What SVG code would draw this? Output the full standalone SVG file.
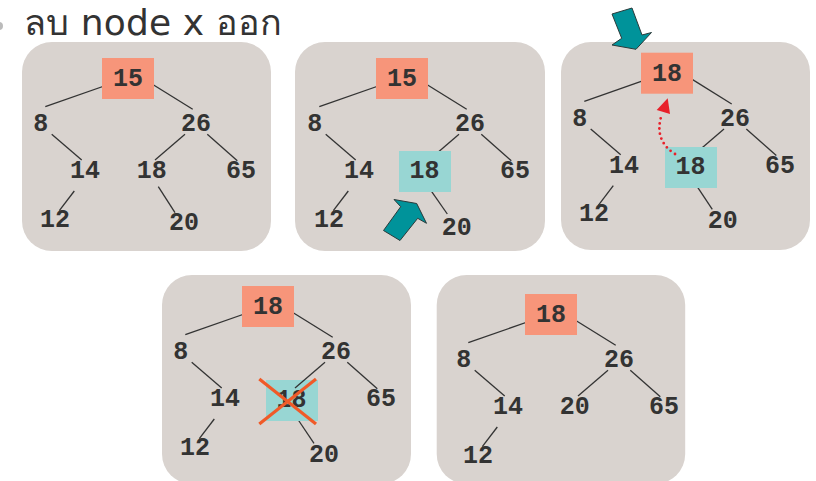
<svg xmlns="http://www.w3.org/2000/svg" width="816" height="481" viewBox="0 0 816 481">
<style>
.panel{fill:#D9D3CF}
.root{fill:#F7957A}
.cur{fill:#98D6D3}
.n{font-family:"Liberation Mono","Courier New",monospace;font-weight:bold;font-size:25px;fill:#333;text-anchor:middle}
.e{stroke:#333;stroke-width:1.3;fill:none}
.title{font-family:"DejaVu Sans","Noto Sans",sans-serif;font-size:36px;fill:#333}
.arrow{fill:#00939A;stroke:#2a3a3a;stroke-width:1}
</style>
<circle cx="-1" cy="26" r="4" fill="#bbb"/>
<text class="title" x="24" y="35" textLength="258" lengthAdjust="spacing">ลบ node x ออก</text>

<!-- Panel 1 -->
<g id="panel1">
<rect class="panel" x="22" y="42" width="249" height="209" rx="30"/>
<g id="p1-connectors">
<line class="e" x1="110" y1="84" x2="45.3" y2="106.7"/>
<line class="e" x1="150" y1="82.7" x2="192.7" y2="109.3"/>
<line class="e" x1="51.7" y1="134.3" x2="81.7" y2="160"/>
<line class="e" x1="185" y1="134.3" x2="155" y2="160"/>
<line class="e" x1="207.3" y1="134.3" x2="237.3" y2="160.7"/>
<line class="e" x1="74.3" y1="191" x2="59.3" y2="210.7"/>
<line class="e" x1="158.3" y1="186.7" x2="175" y2="212.7"/>
</g>
<g id="p1-n15"><rect class="root" x="102" y="58" width="52" height="41"/><text class="n" x="128" y="86">15</text></g>
<g id="p1-n8"><text class="n" x="40.7" y="131">8</text></g>
<g id="p1-n26"><text class="n" x="196" y="131">26</text></g>
<g id="p1-n14"><text class="n" x="85" y="178">14</text></g>
<g id="p1-n18"><text class="n" x="151.7" y="178">18</text></g>
<g id="p1-n65"><text class="n" x="241" y="178">65</text></g>
<g id="p1-n12"><text class="n" x="55" y="226.7">12</text></g>
<g id="p1-n20"><text class="n" x="184" y="230">20</text></g>
</g>

<!-- Panel 2 -->
<g id="panel2">
<rect class="panel" x="295" y="42" width="250" height="209" rx="30"/>
<g id="p2-connectors" transform="translate(274,0)">
<line class="e" x1="110" y1="84" x2="45.3" y2="106.7"/>
<line class="e" x1="150" y1="82.7" x2="192.7" y2="109.3"/>
<line class="e" x1="51.7" y1="134.3" x2="81.7" y2="160"/>
<line class="e" x1="185" y1="134.3" x2="155" y2="160"/>
<line class="e" x1="207.3" y1="134.3" x2="237.3" y2="160.7"/>
<line class="e" x1="74.3" y1="191" x2="59.3" y2="210.7"/>
</g>
<line class="e" x1="431.7" y1="191.7" x2="447.3" y2="214"/>
<g transform="translate(274,0)">
<g id="p2-n15"><rect class="root" x="102" y="58" width="52" height="41"/><text class="n" x="128" y="86">15</text></g>
<g id="p2-n8"><text class="n" x="40.7" y="131">8</text></g>
<g id="p2-n26"><text class="n" x="196" y="131">26</text></g>
<g id="p2-n14"><text class="n" x="85" y="178">14</text></g>
<g id="p2-n65"><text class="n" x="241" y="178">65</text></g>
<g id="p2-n12"><text class="n" x="55" y="226.7">12</text></g>
</g>
<g id="p2-n18"><rect class="cur" x="399" y="151" width="52" height="41"/><text class="n" x="424.5" y="178">18</text></g>
<g id="p2-n20"><text class="n" x="456.7" y="235">20</text></g>
<polygon id="p2-pointer" class="arrow" points="394,199.5 416.7,203.5 426.5,223.3 417.7,218.3 400,240.5 383.5,230.5 400.7,206.7"/>
</g>

<!-- Panel 3 -->
<g id="panel3">
<rect class="panel" x="561" y="42" width="249" height="208" rx="30"/>
<g id="p3-connectors" transform="translate(539,-5.3)">
<line class="e" x1="110" y1="84" x2="45.3" y2="106.7"/>
<line class="e" x1="150" y1="82.7" x2="192.7" y2="109.3"/>
<line class="e" x1="51.7" y1="134.3" x2="81.7" y2="160"/>
<line class="e" x1="185" y1="134.3" x2="155" y2="160"/>
<line class="e" x1="207.3" y1="134.3" x2="237.3" y2="160.7"/>
<line class="e" x1="74.3" y1="191" x2="59.3" y2="210.7"/>
</g>
<line class="e" x1="697.7" y1="187.3" x2="712.3" y2="209.3"/>
<g transform="translate(539,-5.3)">
<g id="p3-n18root"><rect class="root" x="102" y="58" width="52" height="41"/><text class="n" x="128" y="86">18</text></g>
<g id="p3-n8"><text class="n" x="40.7" y="131">8</text></g>
<g id="p3-n26"><text class="n" x="196" y="131">26</text></g>
<g id="p3-n14"><text class="n" x="85" y="178">14</text></g>
<g id="p3-n65"><text class="n" x="241" y="178">65</text></g>
<g id="p3-n12"><text class="n" x="55" y="226.7">12</text></g>
</g>
<g id="p3-n18"><rect class="cur" x="665" y="147" width="52" height="41"/><text class="n" x="690.5" y="174">18</text></g>
<g id="p3-n20"><text class="n" x="722.7" y="228.3">20</text></g>
<path id="p3-move" d="M675,154 Q653,140 662,114" fill="none" stroke="#E8202A" stroke-width="2.8" stroke-linecap="round" stroke-dasharray="0 5.2"/>
<polygon points="667.7,98.3 656.7,110 670,114" fill="#E8202A"/>
<polygon id="p3-pointer" class="arrow" points="612,14 632,8 642,35 651.5,32.5 636,49.3 612,45 621.7,38.3"/>
</g>

<!-- Panel 4 -->
<g id="panel4">
<rect class="panel" x="162" y="275" width="249" height="209" rx="30"/>
<g id="p4-connectors" transform="translate(140,228)">
<line class="e" x1="110" y1="84" x2="45.3" y2="106.7"/>
<line class="e" x1="150" y1="82.7" x2="192.7" y2="109.3"/>
<line class="e" x1="51.7" y1="134.3" x2="81.7" y2="160"/>
<line class="e" x1="207.3" y1="134.3" x2="237.3" y2="160.7"/>
<line class="e" x1="74.3" y1="191" x2="59.3" y2="210.7"/>
</g>
<line class="e" x1="298.3" y1="420" x2="314" y2="443.3"/>
<g transform="translate(140,228)">
<g id="p4-n18root"><rect class="root" x="102" y="58" width="52" height="41"/><text class="n" x="128" y="86">18</text></g>
<g id="p4-n8"><text class="n" x="40.7" y="131">8</text></g>
<g id="p4-n26"><text class="n" x="196" y="131">26</text></g>
<g id="p4-n14"><text class="n" x="85" y="178">14</text></g>
<g id="p4-n65"><text class="n" x="241" y="178">65</text></g>
<g id="p4-n12"><text class="n" x="55" y="226.7">12</text></g>
</g>
<g id="p4-n18"><rect class="cur" x="266" y="380" width="52" height="41"/><text class="n" x="291.5" y="407">18</text></g>
<line class="e" x1="325" y1="362.3" x2="295" y2="388"/>
<g id="p4-n20"><text class="n" x="324" y="461.7">20</text></g>
<g id="p4-cross" stroke="#F05A28" stroke-width="3.2" stroke-linecap="butt">
<line x1="259.3" y1="379" x2="316" y2="424"/>
<line x1="316" y1="379" x2="259.3" y2="424"/>
</g>
</g>

<!-- Panel 5 -->
<g id="panel5">
<rect class="panel" x="436.7" y="275" width="248.5" height="209" rx="30"/>
<g id="p5-connectors" transform="translate(423,236)">
<line class="e" x1="110" y1="84" x2="45.3" y2="106.7"/>
<line class="e" x1="150" y1="82.7" x2="192.7" y2="109.3"/>
<line class="e" x1="51.7" y1="134.3" x2="81.7" y2="160"/>
<line class="e" x1="185" y1="134.3" x2="155" y2="160"/>
<line class="e" x1="207.3" y1="134.3" x2="237.3" y2="160.7"/>
<line class="e" x1="74.3" y1="191" x2="59.3" y2="210.7"/>
</g>
<g transform="translate(423,236)">
<g id="p5-n18root"><rect class="root" x="102" y="58" width="52" height="41"/><text class="n" x="128" y="86">18</text></g>
<g id="p5-n8"><text class="n" x="40.7" y="131">8</text></g>
<g id="p5-n26"><text class="n" x="196" y="131">26</text></g>
<g id="p5-n14"><text class="n" x="85" y="178">14</text></g>
<g id="p5-n20"><text class="n" x="151.7" y="178">20</text></g>
<g id="p5-n65"><text class="n" x="241" y="178">65</text></g>
<g id="p5-n12"><text class="n" x="55" y="226.7">12</text></g>
</g>
</g>
</svg>
